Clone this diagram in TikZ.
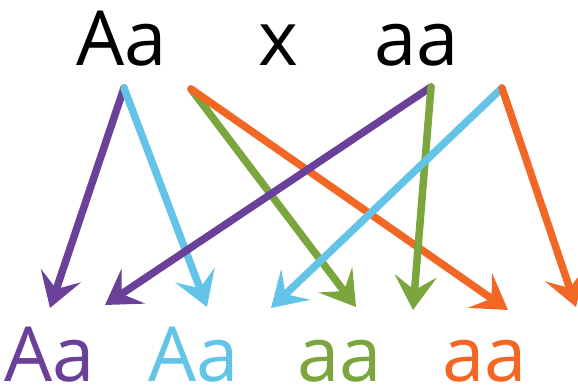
\documentclass[tikz,border=0pt]{standalone}
\usepackage{fontspec}
\setmainfont{Open Sans}
\usetikzlibrary{arrows.meta}
\definecolor{cpurple}{RGB}{107,64,152}
\definecolor{cblue}{RGB}{99,196,232}
\definecolor{cgreen}{RGB}{123,166,62}
\definecolor{corange}{RGB}{243,103,36}
\tikzset{
  geno/.style={anchor=base, inner sep=0pt, font=\fontsize{76}{80}\selectfont},
  cross/.style={line width=7.5pt, line cap=round, -{Stealth[length=34pt, width=42pt, inset=14pt]}},
}
\begin{document}
\begin{tikzpicture}[x=1pt,y=-1pt]
\useasboundingbox (0,0) rectangle (578,390);
% parents
\node[geno] (p1) at (122,66) {Aa};
\node[geno] (px) at (278,66) {x};
\node[geno] (p2) at (417,66) {aa};
% offspring
\node[geno, text=cpurple] (o1) at (50,381) {Aa};
\node[geno, text=cblue] (o2) at (194,381) {Aa};
\node[geno, text=cgreen] (o3) at (340,381) {aa};
\node[geno, text=corange] (o4) at (485,381) {aa};
% start points
\coordinate (sA) at (124,88);
\coordinate (sa) at (191,89);
\coordinate (tA) at (431,87);
\coordinate (ta) at (502,88);
% end points
\coordinate (e1) at (50,308);
\coordinate (e2) at (105,305);
\coordinate (e3) at (207,307);
\coordinate (e4) at (271,308);
\coordinate (e5) at (356,307);
\coordinate (e6) at (413,310);
\coordinate (e7) at (508,310);
\coordinate (e8) at (576,307);
% arrows
\draw[cross, cpurple] (sA) -- (e1);
\draw[cross, cblue] (sA) -- (e3);
\draw[cross, cgreen] (sa) -- (e5);
\draw[cross, corange] (sa) -- (e7);
\draw[cross, cpurple] (tA) -- (e2);
\draw[cross, cgreen] (tA) -- (e6);
\draw[cross, cblue] (ta) -- (e4);
\draw[cross, corange] (ta) -- (e8);
\end{tikzpicture}
\end{document}
